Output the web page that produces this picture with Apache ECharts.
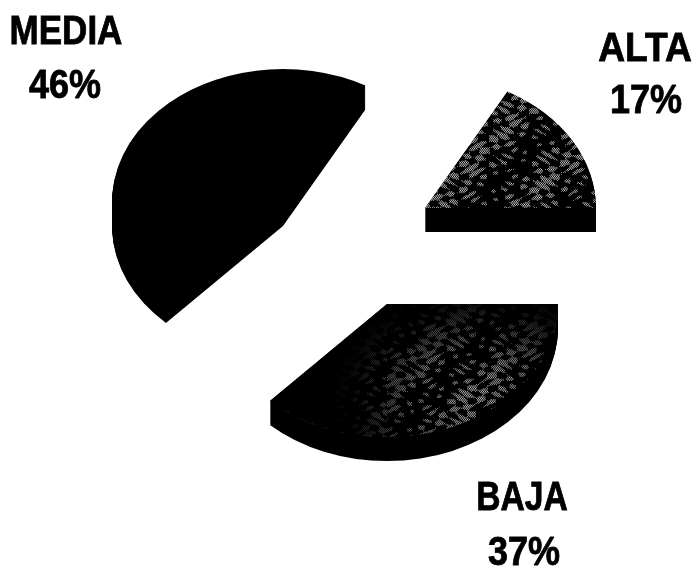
<!DOCTYPE html>
<html><head><meta charset="utf-8">
<style>html,body{margin:0;padding:0;background:#fff}#c{width:697px;height:571px}</style>
<script src="https://cdn.jsdelivr.net/npm/echarts@6/dist/echarts.min.js"></script>
</head><body><div id="c"></div>
<script>
// Data, counter-clockwise from the 3 o'clock direction
const categories = ['ALTA', 'MEDIA', 'BAJA'];
const percents = [17, 46, 37];

// Layout and style
const apexX = [425, 283, 387];
const apexY = [208, 202, 304];
const labelX = [645, 66, 522];
const labelY = [50, 33, 499];
const pctX = [646, 65, 524];
const pctY = [102, 87, 554];
const labelFit = [0.93, 0.875, 0.84];
const RX = 171, RY = 133, DEPTH = 24;

// Mottled dither surface texture (decoration only, carries no data)
function tile(phase, level) {
  const s = 512, cv = document.createElement('canvas');
  cv.width = cv.height = s;
  const g = cv.getContext('2d');
  g.fillStyle = '#000'; g.fillRect(0, 0, s, s);
  for (let y = 0; y < s; y++) for (let x = 0; x < s; x++) {
    if ((x + y) % 2) continue;
    const n = Math.sin(x * 0.31 + phase + 1.6 * Math.sin(y * 0.19))
            * Math.sin(y * 0.37 + phase * 2 + 1.6 * Math.sin(x * 0.13)) * 2
            + 0.7 * Math.sin(x * 0.07 + y * 0.05 + phase);
    if (n > level + 0.9) g.fillStyle = '#c4c4c4';
    else if (n > level + 0.35) g.fillStyle = '#999';
    else if (n > level) g.fillStyle = x % 4 === 0 ? '#8a8a8a' : '#000';
    else continue;
    g.fillRect(x, y, 1, 1);
  }
  return { image: cv, repeat: 'repeat' };
}
const fills = [tile(0.7, 0.35), '#000', tile(2.1, 0.25)];

function renderItem(params, api) {
  const i = params.dataIndex;
  const total = percents.reduce((a, b) => a + b, 0);
  let before = 0;
  for (let k = 0; k < i; k++) before += percents[k];
  const a0 = -before / total * Math.PI * 2;
  const a1 = -(before + api.value(0)) / total * Math.PI * 2;
  const shape = { cx: 0, cy: 0, r0: 0, r: RX, startAngle: a1, endAngle: a0, clockwise: true };
  const children = [];
  for (let d = DEPTH; d >= 1; d--) {
    children.push({ type: 'sector', x: apexX[i], y: apexY[i] + d, scaleY: RY / RX, shape, style: { fill: '#000' } });
  }
  children.push({ type: 'sector', x: apexX[i], y: apexY[i], scaleY: RY / RX, shape, style: { fill: fills[i] } });
  if (i === 2) children.push({ type: 'sector', x: apexX[i], y: apexY[i], scaleY: RY / RX, shape,
    style: { fill: new echarts.graphic.RadialGradient(0.72, 0.72, 0.85, [
      { offset: 0, color: 'rgba(0,0,0,0)' }, { offset: 0.45, color: 'rgba(0,0,0,0.3)' }, { offset: 0.85, color: 'rgba(0,0,0,0.88)' }, { offset: 1, color: 'rgba(0,0,0,1)' }]) } });
  const font = 'bold 40px "Liberation Sans", Arial, sans-serif';
  const txt = (t, x, y, sx) => ({ type: 'text', x, y, scaleX: sx, style: {
    text: t, fill: '#000', font, align: 'center', verticalAlign: 'middle', stroke: '#000', lineWidth: 0.8 } });
  children.push(txt(categories[i], labelX[i], labelY[i], labelFit[i]));
  children.push(txt(api.value(0) + '%', pctX[i], pctY[i], 0.9));
  return { type: 'group', children };
}

const chart = echarts.init(document.getElementById('c'), null, { renderer: 'canvas' });
chart.setOption({
  animation: false,
  backgroundColor: '#fff',
  series: [{
    type: 'custom',
    coordinateSystem: 'none',
    silent: true,
    clip: false,
    renderItem,
    data: percents.map((v, i) => ({ name: categories[i], value: [v] }))
  }]
});
</script></body></html>
